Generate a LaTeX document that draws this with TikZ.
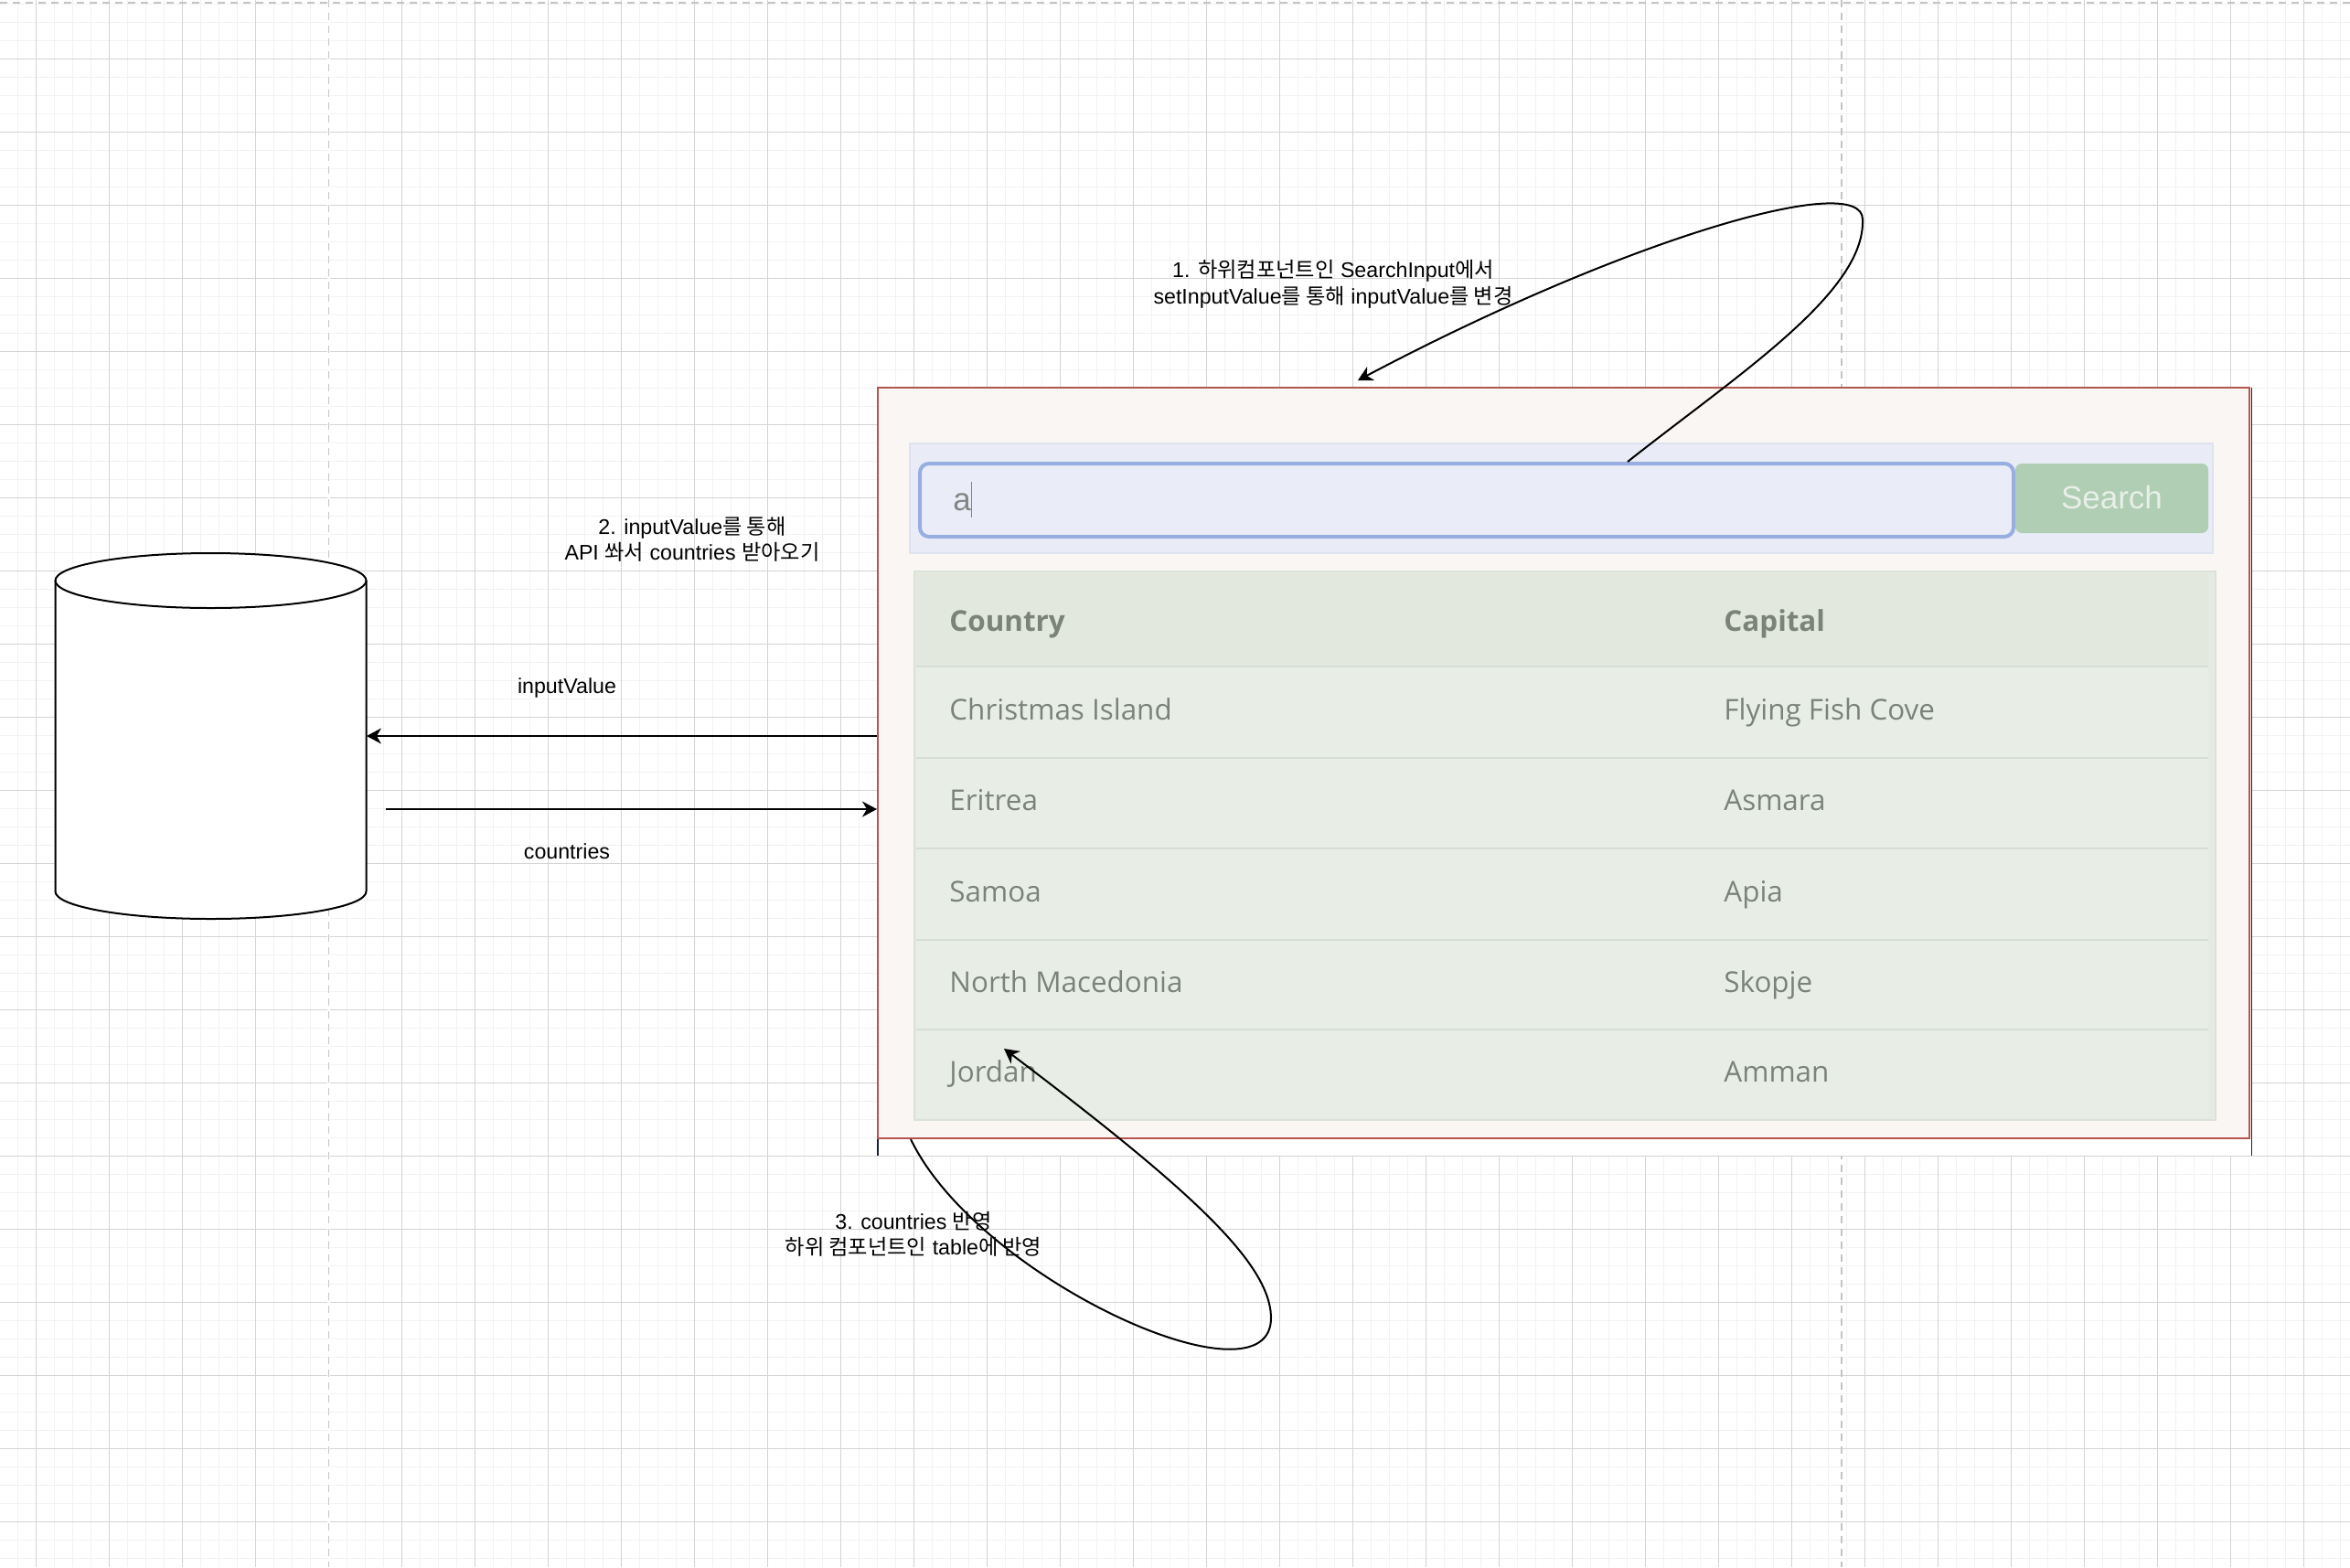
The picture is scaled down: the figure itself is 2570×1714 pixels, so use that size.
\documentclass[tikz,border=0pt]{standalone}
\usepackage{fontspec}
\setmainfont{Liberation Sans}
\newfontfamily\kr{Noto Sans CJK KR}
\newfontfamily\osans{Open Sans}
\usetikzlibrary{arrows.meta,calc}
\definecolor{gminor}{HTML}{F2F2F2}
\definecolor{gmajor}{HTML}{D4D4D4}
\definecolor{gdash}{HTML}{C4C4C4}
\definecolor{uibg}{HTML}{FAF6F3}
\definecolor{uired}{HTML}{B3564F}
\definecolor{uidark}{HTML}{1B2232}
\definecolor{barbg}{HTML}{E9ECF6}
\definecolor{barline}{HTML}{DFE3EF}
\definecolor{inpline}{HTML}{98ADE0}
\definecolor{inpbg}{HTML}{EAEDF7}
\definecolor{btnbg}{HTML}{AFCEB3}
\definecolor{btntext}{HTML}{E8EFE9}
\definecolor{tblout}{HTML}{E5EBE2}
\definecolor{tblline}{HTML}{DAE2D7}
\definecolor{hdrbg}{HTML}{E2E8DE}
\definecolor{rowbg}{HTML}{E8EEE5}
\definecolor{sepline}{HTML}{D6DDD3}
\definecolor{celltext}{HTML}{7B8379}
\definecolor{inptext}{HTML}{858585}
\begin{document}
\begin{tikzpicture}[x=0.5pt,y=-0.5pt,
  minorline/.style={gminor,line width=0.75pt},
  majorline/.style={gmajor,line width=0.6pt},
  pagebreak/.style={gdash,line width=0.75pt,dash pattern=on 4pt off 3pt},
  lbl/.style={inner sep=0pt,align=center,font=\fontsize{11.6pt}{14.25pt}\selectfont},
  arr/.style={line width=1pt,-{Stealth[length=8pt,width=8.5pt,inset=2.5pt]}},
  cell/.style={inner sep=0pt,anchor=base west,text=celltext,font=\osans\fontsize{15.7pt}{18pt}\selectfont},
  hcell/.style={cell,font=\osans\bfseries\fontsize{15.7pt}{18pt}\selectfont},
  rowsep/.style={sepline,line width=1pt}]
\useasboundingbox (0,0) rectangle (2570,1714);
\fill[white] (0,0) rectangle (2570,1714);
% grid
\foreach \i in {-1,...,128} {\draw[minorline] ({19.4+20*\i},0) -- ({19.4+20*\i},1714);}
\foreach \i in {0,...,85} {\draw[minorline] (0,{4.3+20*\i}) -- (2570,{4.3+20*\i});}
\foreach \i in {0,...,31} {\draw[majorline] ({39.4+80*\i},0) -- ({39.4+80*\i},1714);}
\foreach \i in {0,...,20} {\draw[majorline] (0,{64.3+80*\i}) -- (2570,{64.3+80*\i});}
% page breaks
\draw[white,line width=1.2pt] (359.6,0) -- (359.6,1714);
\draw[pagebreak] (359.6,0) -- (359.6,1714);
\draw[pagebreak] (2014,0) -- (2014,1714);
\draw[pagebreak] (0,3) -- (2570,3);

% database cylinder
\node[minimum width=170pt,minimum height=200pt,inner sep=0pt] (db) at (230.5,805) {};
\fill[white] (60.5,635) rectangle (400.5,975);
\filldraw[fill=white,line width=1pt] (60.5,635) -- (60.5,975)
  arc[start angle=180,end angle=0,x radius=170,y radius=30] -- (400.5,635);
\filldraw[fill=white,line width=1pt] (230.5,635) ellipse[x radius=170,y radius=30];

% screenshot of the UI
\node[minimum width=751pt,minimum height=420pt,inner sep=0pt,fill=white] (shot) at (1711,844) {};
\draw[uidark,line width=0.9pt] (shot.north east) -- (shot.south east);
\draw[uidark,line width=0.9pt] (shot.north west) -- (shot.south west);
\node[minimum width=750pt,minimum height=410.5pt,inner sep=0pt,fill=uibg,draw=uired,line width=1pt] (ui) at (1710,834.5) {};
\node[minimum width=712.5pt,minimum height=60pt,inner sep=0pt,fill=barbg,draw=barline,line width=0.6pt] (bar) at (1707.5,545) {};
\node[minimum width=598pt,minimum height=40pt,inner sep=0pt,fill=inpbg,draw=inpline,line width=2pt,rounded corners=5pt] (inp) at (1604,547) {};
\node[inner sep=0pt,anchor=base west,text=inptext,font=\fontsize{17.5pt}{20pt}\selectfont] (atext) at (1042,558) {a};
\draw[inptext,line width=0.5pt] (1062,527) -- (1062,566);
\node[minimum width=105.5pt,minimum height=38pt,inner sep=0pt,fill=btnbg,rounded corners=3.5pt] (btn) at (2309.5,545) {};
\node[inner sep=0pt,anchor=base,text=btntext,font=\fontsize{17.5pt}{20pt}\selectfont] (btntxt) at (2309.5,556) {Search};

% table
\node[minimum width=711.5pt,minimum height=300pt,inner sep=0pt,fill=tblout,draw=tblline,line width=0.6pt] (tbl) at (1711.5,925) {};
\fill[hdrbg] (1002,627) rectangle (2415,729);
\fill[rowbg] (1002,729) rectangle (2415,1223);
\foreach \y in {729,829,928,1028,1126} {\draw[rowsep] (1002,\y) -- (2415,\y);}
\node[hcell] (h1) at (1038,690) {Country};
\node[hcell] (h2) at (1885,690) {Capital};
\node[cell] (r1a) at (1038,787) {Christmas Island};
\node[cell] (r1b) at (1885,787) {Flying Fish Cove};
\node[cell] (r2a) at (1038,886) {Eritrea};
\node[cell] (r2b) at (1885,886) {Asmara};
\node[cell] (r3a) at (1038,986) {Samoa};
\node[cell] (r3b) at (1885,986) {Apia};
\node[cell] (r4a) at (1038,1085) {North Macedonia};
\node[cell] (r4b) at (1885,1085) {Skopje};
\node[cell] (r5a) at (1038,1183) {Jordan};
\node[cell] (r5b) at (1885,1183) {Amman};

% labels
\node[lbl] (l1) at (1458,311) {1. {\kr 하위컴포넌트인} SearchInput{\kr 에서}\\setInputValue{\kr 를 통해} inputValue{\kr 를 변경}};
\node[lbl] (l2) at (757,590) {2. inputValue{\kr 를 통해}\\API {\kr 쏴서} countries {\kr 받아오기}};
\node[lbl] (l3) at (620,752) {inputValue};
\node[lbl] (l4) at (620,931) {countries};
\node[lbl] (l5) at (999,1350) {3. countries {\kr 반영}\\{\kr 하위 컴포넌트인} table{\kr 에 반영}};

% connectors
\draw[arr] (ui.west |- db.east) -- (db.east);
\coordinate (cs) at ($(db.east)+(21,80)$);
\draw[arr] (cs) -- (cs -| ui.west);
\coordinate (s1) at ($(inp.north)+(176,0)$);
\coordinate (e1) at ($(ui.north)+(-225,-7)$);
\draw[arr] (s1) .. controls (1900,410) and (2040,320) .. (2037,240)
  .. controls (2037,186) and (1780,260) .. (e1);
\coordinate (s3) at ($(ui.south)+(-714,0)$);
\coordinate (e3) at ($(r5a.base west)+(60,-36)$);
\draw[arr] (s3) .. controls (1070,1400) and (1393,1545) .. (1390,1440)
  .. controls (1388,1380) and (1300,1300) .. (e3);
\end{tikzpicture}
\end{document}
